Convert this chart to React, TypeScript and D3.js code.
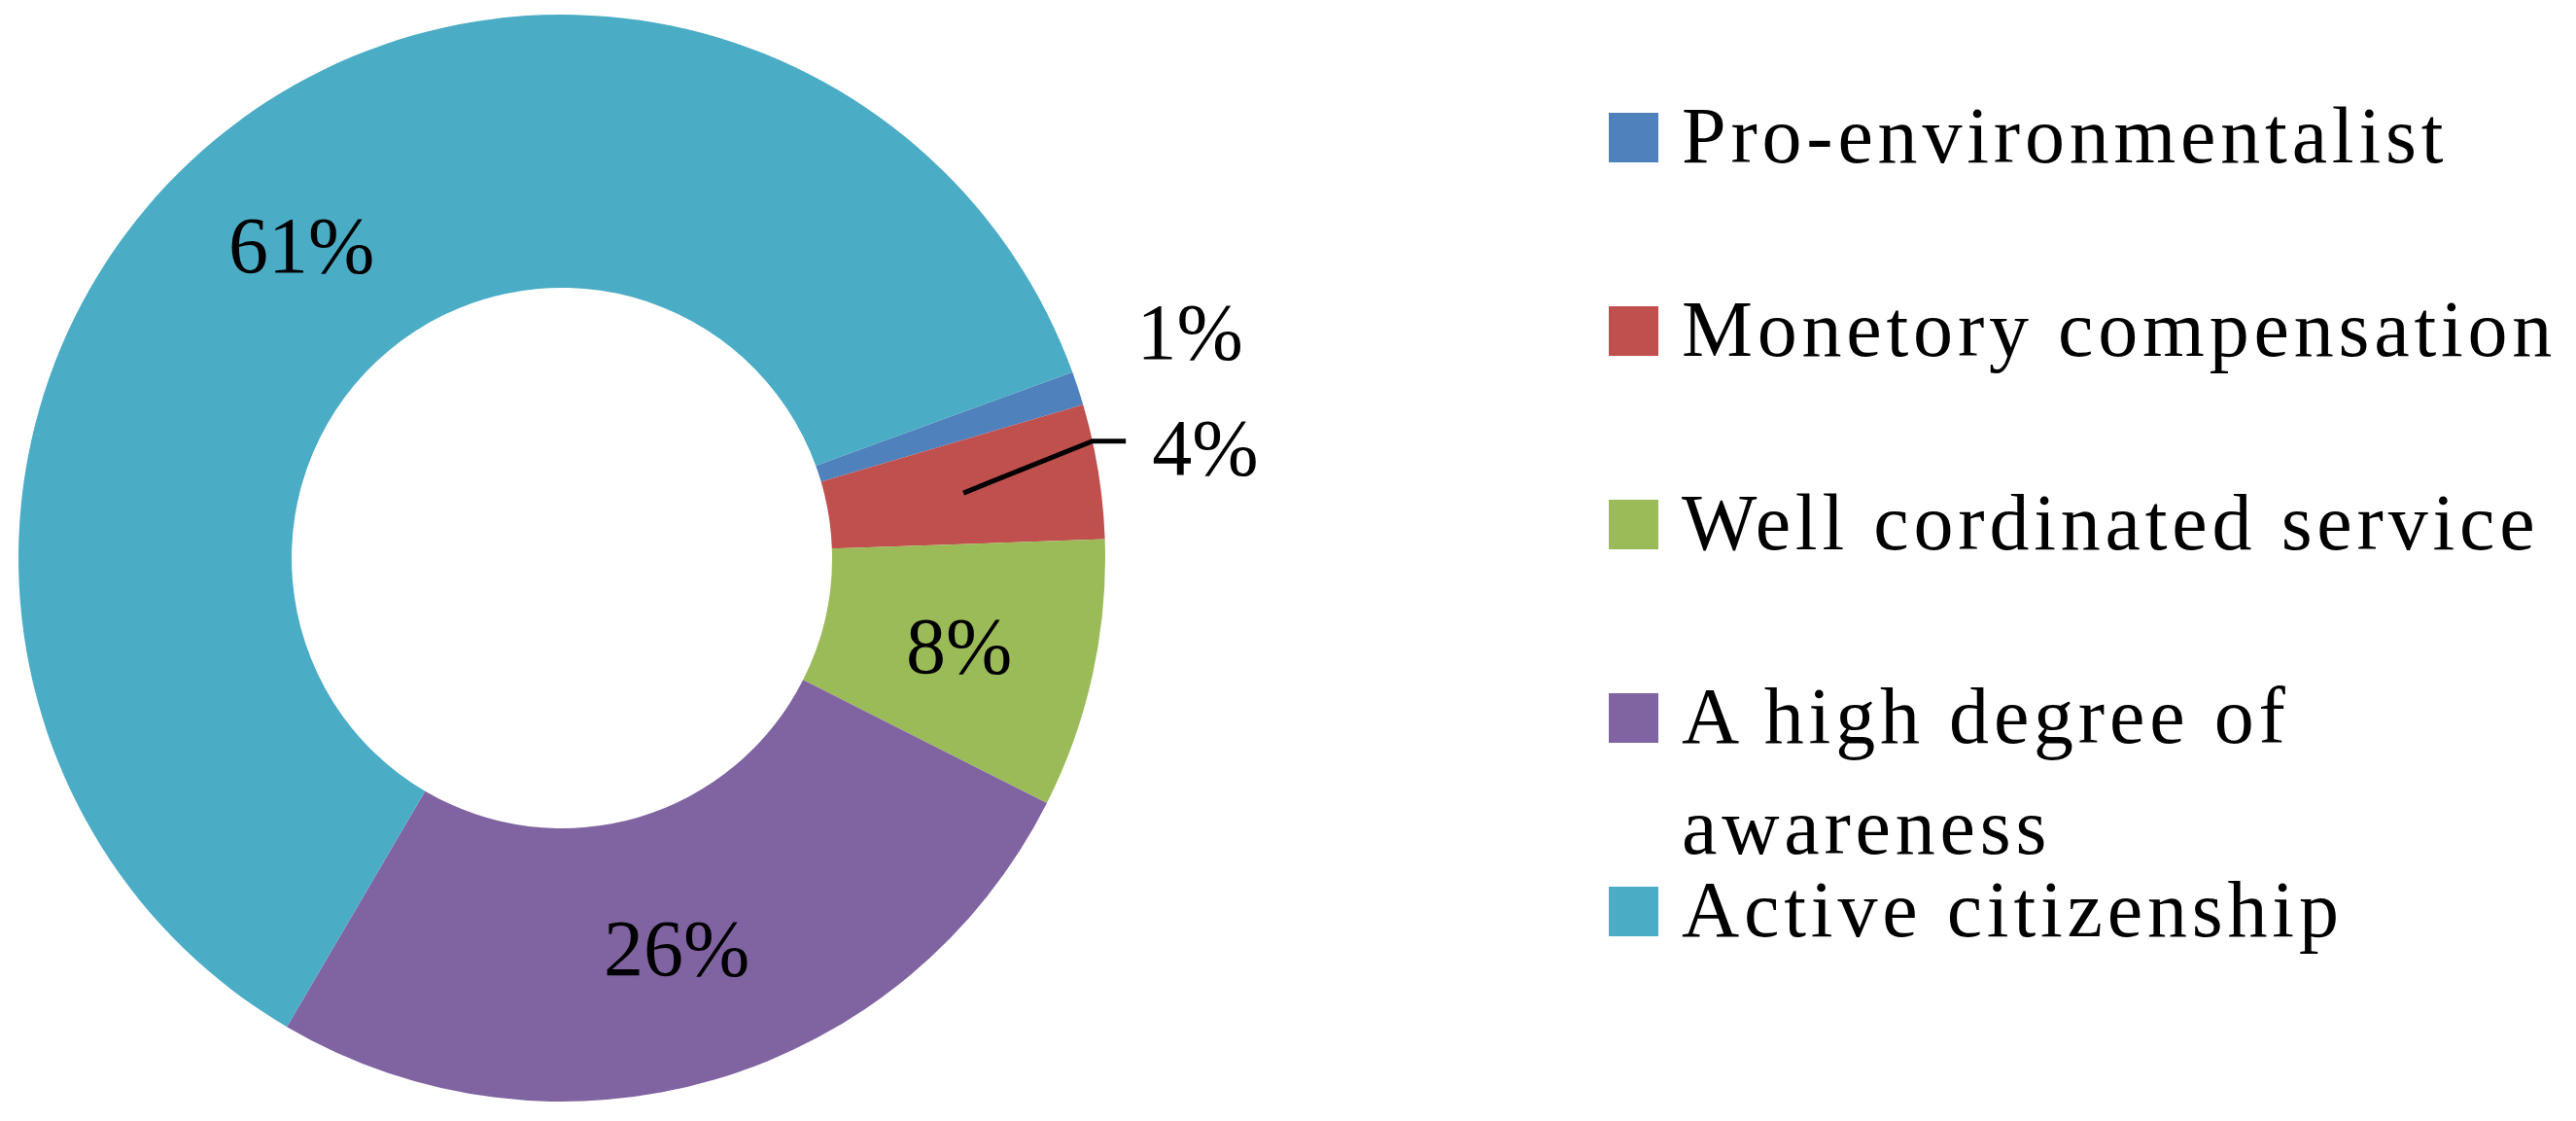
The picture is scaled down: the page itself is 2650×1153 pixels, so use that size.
import React, { useEffect, useRef } from "react";
import * as d3 from "d3";

const categories = [
  "Pro-environmentalist",
  "Monetory compensation",
  "Well cordinated service",
  "A high degree of awareness",
  "Active citizenship",
];
const shares = [1, 4, 8, 26, 61];
const colors = ["#4F81BD", "#C0504D", "#9BBB59", "#8064A2", "#4BACC6"];
// legend lines (Excel wraps the long entry)
const legendLines = [
  ["Pro-environmentalist"],
  ["Monetory compensation"],
  ["Well cordinated service"],
  ["A high degree of", "awareness"],
  ["Active citizenship"],
];

const W = 2650;
const H = 1153;
const FONT = "Liberation Serif, DejaVu Serif, serif";

const App: React.FC = () => {
  const svgRef = useRef<SVGSVGElement | null>(null);

  useEffect(() => {
    if (!svgRef.current) return;
    const svg = d3.select(svgRef.current);
    svg.selectAll("*").remove();

    const cx = 578;
    const cy = 574;
    const outerR = 559;
    const innerR = 278;
    const startDeg = 70;

    const pie = d3
      .pie<number>()
      .sort(null)
      .value((d) => d)
      .startAngle((startDeg * Math.PI) / 180)
      .endAngle((startDeg * Math.PI) / 180 + 2 * Math.PI);

    const arcs = pie(shares);
    const arc = d3.arc<d3.PieArcDatum<number>>().innerRadius(innerR).outerRadius(outerR);

    const g = svg.append("g").attr("transform", `translate(${cx},${cy})`);

    g.selectAll("path.slice")
      .data(arcs)
      .enter()
      .append("path")
      .attr("class", "slice")
      .attr("d", arc)
      .attr("fill", (d, i) => colors[i]);

    // small slices get their labels outside the ring
    const outside: Record<number, { dx: number; dy: number; leader: boolean }> = {
      0: { dx: 115, dy: -58, leader: false },
      1: { dx: 110, dy: -25, leader: true },
    };

    arcs.forEach((a, i) => {
      const mid = (a.startAngle + a.endAngle) / 2;
      let x: number;
      let y: number;
      const o = outside[i];
      if (o) {
        x = outerR * Math.sin(mid) + o.dx;
        y = -outerR * Math.cos(mid) + o.dy;
      } else {
        [x, y] = arc.centroid(a);
      }
      const text = g
        .append("text")
        .attr("x", x)
        .attr("y", y)
        .attr("dy", "0.34em")
        .attr("text-anchor", "middle")
        .attr("font-family", FONT)
        .attr("font-size", 82)
        .attr("fill", "#000")
        .text(`${shares[i]}%`);

      if (o && o.leader) {
        const [sx, sy] = arc.centroid(a);
        const ey = y - 6;
        const ex = Math.sqrt(outerR * outerR - ey * ey);
        const bbox = (text.node() as SVGTextElement).getBBox();
        g.append("path")
          .attr("d", `M${sx},${sy}L${ex},${ey}L${bbox.x - 27},${ey}`)
          .attr("fill", "none")
          .attr("stroke", "#000")
          .attr("stroke-width", 5);
      }
    });

    // legend
    const legend = svg.append("g").attr("transform", "translate(1655,116)");
    const rowStep = 199;
    const box = 51;
    categories.forEach((c, i) => {
      const row = legend.append("g").attr("transform", `translate(0,${i * rowStep})`);
      row.append("rect").attr("width", box).attr("height", box).attr("fill", colors[i]);
      legendLines[i].forEach((line, j) => {
        row
          .append("text")
          .attr("x", 75)
          .attr("y", box + j * 114)
          .attr("font-family", FONT)
          .attr("font-size", 82)
          .attr("letter-spacing", 4.8)
          .attr("fill", "#000")
          .text(line);
      });
    });
  }, []);

  return (
    <svg
      ref={svgRef}
      width={W}
      height={H}
      viewBox={`0 0 ${W} ${H}`}
      style={{ position: "absolute", left: 0, top: 0, background: "#fff" }}
    />
  );
};

export default App;
